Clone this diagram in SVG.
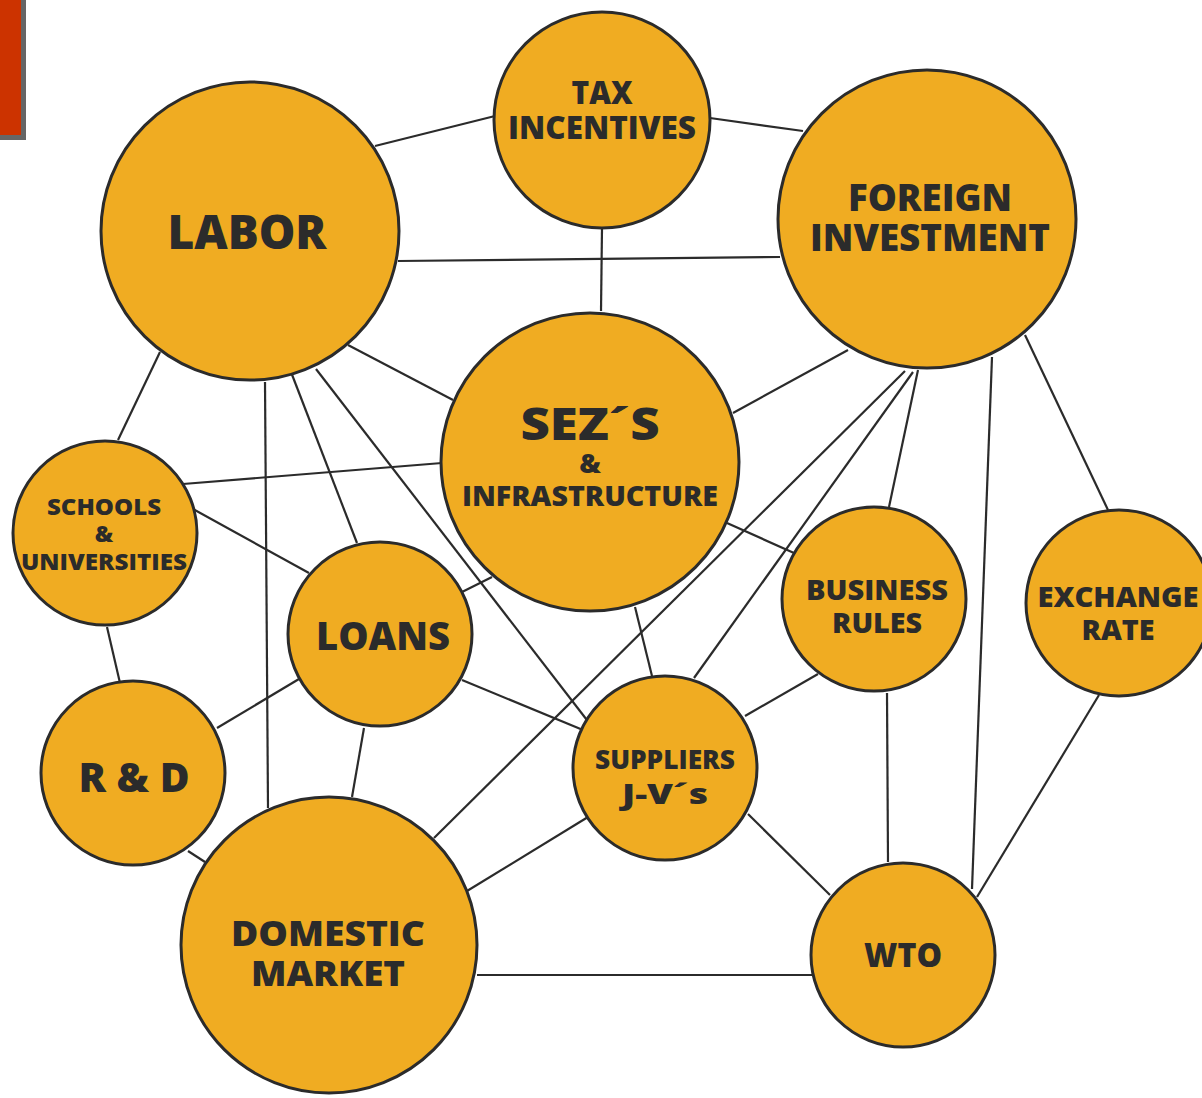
<svg xmlns="http://www.w3.org/2000/svg" width="1202" height="1098" viewBox="0 0 1202 1098">
<style>
.n{fill:#f0ac22;stroke:#2b2b2b;stroke-width:3}
.c line{stroke:#2b2b2b;stroke-width:2.2}
text{font-family:"Open Sans","Liberation Sans",sans-serif;font-weight:800;fill:#2b2b2b;text-anchor:middle}
</style>
<rect width="1202" height="1098" fill="#fff"/>
<rect x="-3" y="-3" width="26.5" height="140.5" fill="#cc3300" stroke="#666" stroke-width="5"/>
<g class="c" id="connectors">
<line x1="375" y1="146" x2="495" y2="116"/>
<line x1="710" y1="118" x2="803" y2="131"/>
<line x1="602" y1="228" x2="601" y2="311"/>
<line x1="398" y1="261" x2="780" y2="257"/>
<line x1="348" y1="345" x2="453" y2="400"/>
<line x1="848" y1="350" x2="733" y2="413"/>
<line x1="160" y1="352" x2="118" y2="440"/>
<line x1="291" y1="372" x2="357" y2="543"/>
<line x1="265" y1="382" x2="268" y2="808"/>
<line x1="316" y1="369" x2="590" y2="724"/>
<line x1="183" y1="484" x2="442" y2="463"/>
<line x1="193" y1="509" x2="309" y2="573"/>
<line x1="107" y1="627" x2="120" y2="683"/>
<line x1="462" y1="592" x2="492" y2="577"/>
<line x1="217" y1="728" x2="299" y2="679"/>
<line x1="364" y1="728" x2="352" y2="797"/>
<line x1="462" y1="680" x2="583" y2="730"/>
<line x1="635" y1="607" x2="652" y2="676"/>
<line x1="727" y1="523" x2="794" y2="553"/>
<line x1="905" y1="371" x2="434" y2="838"/>
<line x1="913" y1="372" x2="694" y2="678"/>
<line x1="918" y1="370" x2="889" y2="507"/>
<line x1="992" y1="357" x2="972" y2="889"/>
<line x1="1025" y1="335" x2="1108" y2="510"/>
<line x1="818" y1="674" x2="745" y2="716"/>
<line x1="887" y1="693" x2="888" y2="862"/>
<line x1="748" y1="814" x2="830" y2="895"/>
<line x1="588" y1="817" x2="467" y2="891"/>
<line x1="477" y1="975" x2="813" y2="975"/>
<line x1="1099" y1="695" x2="977" y2="897"/>
<line x1="188" y1="851" x2="205" y2="862"/>
</g>
<g id="tax"><circle class="n" cx="602" cy="120" r="108"/>
<text x="602" y="104" font-size="32" textLength="61" lengthAdjust="spacingAndGlyphs">TAX</text>
<text x="602" y="139" font-size="32" textLength="188" lengthAdjust="spacingAndGlyphs">INCENTIVES</text></g>
<g id="labor"><circle class="n" cx="250" cy="231" r="149"/>
<text x="247" y="249" font-size="48" textLength="159" lengthAdjust="spacingAndGlyphs">LABOR</text></g>
<g id="foreign"><circle class="n" cx="927" cy="219" r="149"/>
<text x="930" y="211" font-size="37" textLength="164" lengthAdjust="spacingAndGlyphs">FOREIGN</text>
<text x="930" y="251" font-size="37" textLength="240" lengthAdjust="spacingAndGlyphs">INVESTMENT</text></g>
<g id="sez"><circle class="n" cx="590" cy="462" r="149"/>
<text x="590" y="440" font-size="45" textLength="139" lengthAdjust="spacingAndGlyphs">SEZ´S</text>
<text x="590" y="473" font-size="27">&amp;</text>
<text x="590" y="506" font-size="28" textLength="256" lengthAdjust="spacingAndGlyphs">INFRASTRUCTURE</text></g>
<g id="schools"><circle class="n" cx="105" cy="533" r="92"/>
<text x="104" y="515" font-size="23" textLength="114" lengthAdjust="spacingAndGlyphs">SCHOOLS</text>
<text x="104" y="542" font-size="23">&amp;</text>
<text x="104" y="570" font-size="23" textLength="166" lengthAdjust="spacingAndGlyphs">UNIVERSITIES</text></g>
<g id="loans"><circle class="n" cx="380" cy="634" r="92"/>
<text x="383" y="650" font-size="38" textLength="134" lengthAdjust="spacingAndGlyphs">LOANS</text></g>
<g id="rd"><circle class="n" cx="133" cy="773" r="92"/>
<text x="134" y="792" font-size="40" textLength="111" lengthAdjust="spacingAndGlyphs">R &amp; D</text></g>
<g id="business"><circle class="n" cx="874" cy="599" r="92"/>
<text x="877" y="600" font-size="28" textLength="142" lengthAdjust="spacingAndGlyphs">BUSINESS</text>
<text x="877" y="633" font-size="28" textLength="90" lengthAdjust="spacingAndGlyphs">RULES</text></g>
<g id="exchange"><circle class="n" cx="1119" cy="603" r="93"/>
<text x="1118" y="607" font-size="28" textLength="161" lengthAdjust="spacingAndGlyphs">EXCHANGE</text>
<text x="1118" y="640" font-size="28" textLength="73" lengthAdjust="spacingAndGlyphs">RATE</text></g>
<g id="suppliers"><circle class="n" cx="665" cy="768" r="92"/>
<text x="665" y="769" font-size="26" textLength="140" lengthAdjust="spacingAndGlyphs">SUPPLIERS</text>
<text x="665" y="804" font-size="29" textLength="86" lengthAdjust="spacingAndGlyphs">J-V´s</text></g>
<g id="domestic"><circle class="n" cx="329" cy="945" r="148"/>
<text x="328" y="946" font-size="36" textLength="194" lengthAdjust="spacingAndGlyphs">DOMESTIC</text>
<text x="328" y="986" font-size="36" textLength="154" lengthAdjust="spacingAndGlyphs">MARKET</text></g>
<g id="wto"><circle class="n" cx="903" cy="955" r="92"/>
<text x="903" y="967" font-size="34" textLength="78" lengthAdjust="spacingAndGlyphs">WTO</text></g>
</svg>
